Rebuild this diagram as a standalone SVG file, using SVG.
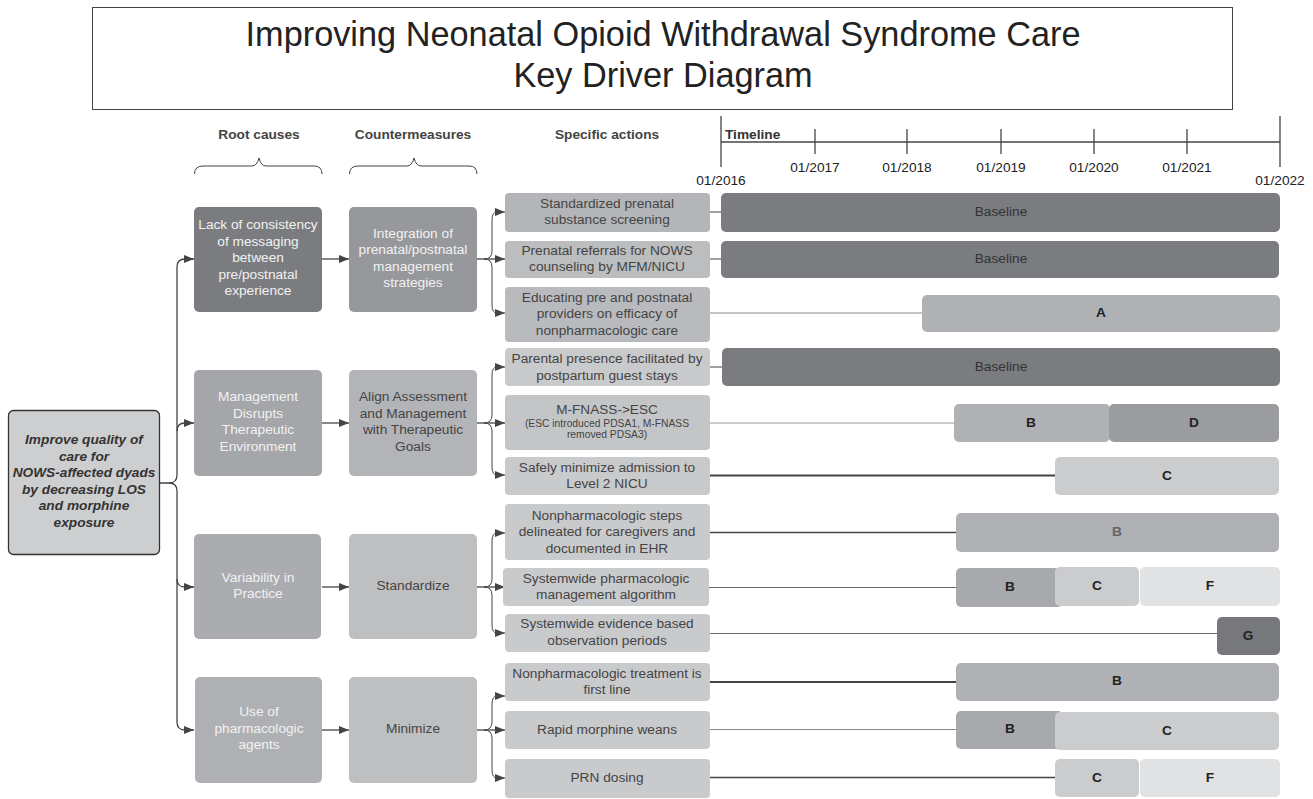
<svg xmlns="http://www.w3.org/2000/svg" width="1313" height="799" viewBox="0 0 1313 799">
<defs>
<marker id="arr" viewBox="0 0 10 8" refX="10" refY="4" markerWidth="10" markerHeight="8" markerUnits="userSpaceOnUse" orient="auto">
<path d="M0,0 L10,4 L0,8 Z" fill="#444"/>
</marker>
<style>
text{font-family:"Liberation Sans",Arial,sans-serif;text-anchor:middle}
.title{font-size:34.3px;fill:#222}
.hdr{font-size:13.7px;font-weight:bold;fill:#444}
.lt{font-size:13.7px;fill:#f2f2f2}
.dk{font-size:13.7px;fill:#444}
.goal{font-size:13.7px;font-weight:bold;font-style:italic;fill:#333}
.tick{font-size:13.7px;fill:#222}
.bar{font-size:13.7px;font-weight:bold;fill:#222}
.base{font-size:13.7px;fill:#333}
.conn{fill:none;stroke:#444;stroke-width:1.3}
.brace{fill:none;stroke:#444;stroke-width:1}
.tl{stroke:#444;stroke-width:1.3}
</style>
</defs>
<rect width="1313" height="799" fill="#fff"/>

<g id="title">
<rect x="92.5" y="7.5" width="1140" height="102" fill="#fff" stroke="#444" stroke-width="1"/>
<text class="title" x="663" y="46">Improving Neonatal Opioid Withdrawal Syndrome Care</text>
<text class="title" x="663" y="87">Key Driver Diagram</text>
</g>

<g id="headers">
<text class="hdr" x="259" y="139">Root causes</text>
<text class="hdr" x="413" y="139">Countermeasures</text>
<text class="hdr" x="607" y="139">Specific actions</text>
<path class="brace" d="M194.5,174 Q194.5,166 203,166 H252 Q257,166 259,158 Q261,166 266,166 H314 Q322,166 322,174"/>
<path class="brace" d="M349.5,174 Q349.5,166 358,166 H407 Q412,166 414,158 Q416,166 421,166 H469 Q477,166 477,174"/>
</g>

<g id="timeline">
<line class="tl" x1="721" y1="142" x2="1280" y2="142"/>
<line class="tl" x1="721" y1="116" x2="721" y2="167"/>
<line class="tl" x1="1280" y1="116" x2="1280" y2="167"/>
<line class="tl" x1="815" y1="129" x2="815" y2="154"/>
<line class="tl" x1="907" y1="129" x2="907" y2="154"/>
<line class="tl" x1="1001" y1="129" x2="1001" y2="154"/>
<line class="tl" x1="1094" y1="129" x2="1094" y2="154"/>
<line class="tl" x1="1187" y1="129" x2="1187" y2="154"/>
<text class="hdr" x="725" y="139" style="text-anchor:start;fill:#333">Timeline</text>
<text class="tick" x="721" y="185">01/2016</text>
<text class="tick" x="815" y="172">01/2017</text>
<text class="tick" x="907" y="172">01/2018</text>
<text class="tick" x="1001" y="172">01/2019</text>
<text class="tick" x="1094" y="172">01/2020</text>
<text class="tick" x="1187" y="172">01/2021</text>
<text class="tick" x="1280" y="185">01/2022</text>
</g>

<g id="connectors">
<path class="conn" d="M159,483 H169 Q177,483 177,475 V267 Q177,259 185,259 H194" marker-end="url(#arr)"/>
<path class="conn" d="M169,483 Q177,483 177,491 V722 Q177,730 185,730 H194" marker-end="url(#arr)"/>
<path class="conn" d="M177,431 Q177,423 185,423 H194" marker-end="url(#arr)"/>
<path class="conn" d="M177,579 Q177,587 185,587 H194" marker-end="url(#arr)"/>
<line class="conn" x1="322" y1="259" x2="349" y2="259" marker-end="url(#arr)"/>
<line class="conn" x1="322" y1="423" x2="349" y2="423" marker-end="url(#arr)"/>
<line class="conn" x1="322" y1="587" x2="349" y2="587" marker-end="url(#arr)"/>
<line class="conn" x1="322" y1="730" x2="349" y2="730" marker-end="url(#arr)"/>
<line class="conn" x1="477" y1="259" x2="505" y2="259" marker-end="url(#arr)"/>
<path class="brace" d="M484,259 Q492,259 492,251 V220 Q492,212 497,212 H505" marker-end="url(#arr)"/>
<path class="brace" d="M484,259 Q492,259 492,267 V305 Q492,313 497,313 H505" marker-end="url(#arr)"/>
<line class="conn" x1="477" y1="423" x2="505" y2="423" marker-end="url(#arr)"/>
<path class="brace" d="M484,423 Q492,423 492,415 V375 Q492,367 497,367 H505" marker-end="url(#arr)"/>
<path class="brace" d="M484,423 Q492,423 492,431 V467 Q492,475 497,475 H505" marker-end="url(#arr)"/>
<line class="conn" x1="477" y1="587" x2="505" y2="587" marker-end="url(#arr)"/>
<path class="brace" d="M484,587 Q492,587 492,579 V541 Q492,533 497,533 H505" marker-end="url(#arr)"/>
<path class="brace" d="M484,587 Q492,587 492,595 V625 Q492,633 497,633 H505" marker-end="url(#arr)"/>
<line class="conn" x1="477" y1="730" x2="505" y2="730" marker-end="url(#arr)"/>
<path class="brace" d="M484,730 Q492,730 492,722 V704 Q492,696 497,696 H505" marker-end="url(#arr)"/>
<path class="brace" d="M484,730 Q492,730 492,738 V770 Q492,778 497,778 H505" marker-end="url(#arr)"/>
<line x1="710" y1="212" x2="721" y2="212" stroke="#444" stroke-width="1"/>
<line x1="710" y1="259" x2="721" y2="259" stroke="#444" stroke-width="1"/>
<line x1="710" y1="313" x2="922" y2="313" stroke="#888" stroke-width="1"/>
<line x1="710" y1="367" x2="722" y2="367" stroke="#444" stroke-width="1"/>
<line x1="710" y1="423" x2="954" y2="423" stroke="#999" stroke-width="1"/>
<line x1="710" y1="475.5" x2="1055" y2="475.5" stroke="#444" stroke-width="2"/>
<line x1="710" y1="532.5" x2="956" y2="532.5" stroke="#444" stroke-width="1.3"/>
<line x1="709" y1="587.5" x2="956" y2="587.5" stroke="#666" stroke-width="1"/>
<line x1="710" y1="633.5" x2="1217" y2="633.5" stroke="#666" stroke-width="1"/>
<line x1="710" y1="682" x2="956" y2="682" stroke="#444" stroke-width="2"/>
<line x1="710" y1="729.5" x2="956" y2="729.5" stroke="#888" stroke-width="1"/>
<line x1="710" y1="777.5" x2="1055" y2="777.5" stroke="#444" stroke-width="1.3"/>
</g>

<g id="goal">
<rect x="8.5" y="410.5" width="151" height="144" rx="5" fill="#cdcecf" stroke="#333" stroke-width="1.3"/>
<text class="goal" x="84" y="444">Improve quality of</text>
<text class="goal" x="84" y="461">care for</text>
<text class="goal" x="84" y="477">NOWS-affected dyads</text>
<text class="goal" x="84" y="494">by decreasing LOS</text>
<text class="goal" x="84" y="510">and morphine</text>
<text class="goal" x="84" y="527">exposure</text>
</g>

<g id="root1">
<rect x="194" y="207" width="128" height="105" rx="5" fill="#7b7c80"/>
<text class="lt" x="258" y="229">Lack of consistency</text>
<text class="lt" x="258" y="246">of messaging</text>
<text class="lt" x="258" y="262">between</text>
<text class="lt" x="258" y="279">pre/postnatal</text>
<text class="lt" x="258" y="295">experience</text>
</g>
<g id="root2">
<rect x="194" y="370" width="128" height="106" rx="5" fill="#a5a6a9"/>
<text class="lt" x="258" y="401">Management</text>
<text class="lt" x="258" y="418">Disrupts</text>
<text class="lt" x="258" y="434">Therapeutic</text>
<text class="lt" x="258" y="451">Environment</text>
</g>
<g id="root3">
<rect x="194" y="534" width="127" height="105" rx="5" fill="#abacaf"/>
<text class="lt" x="258" y="582">Variability in</text>
<text class="lt" x="258" y="598">Practice</text>
</g>
<g id="root4">
<rect x="195" y="677" width="127" height="106" rx="5" fill="#afb0b3"/>
<text class="lt" x="259" y="716">Use of</text>
<text class="lt" x="259" y="733">pharmacologic</text>
<text class="lt" x="259" y="749">agents</text>
</g>

<g id="counter1">
<rect x="349" y="207" width="128" height="105" rx="5" fill="#97989b"/>
<text class="lt" x="413" y="238">Integration of</text>
<text class="lt" x="413" y="254">prenatal/postnatal</text>
<text class="lt" x="413" y="271">management</text>
<text class="lt" x="413" y="287">strategies</text>
</g>
<g id="counter2">
<rect x="349" y="370" width="128" height="106" rx="5" fill="#b3b4b7"/>
<text class="dk" x="413" y="401">Align Assessment</text>
<text class="dk" x="413" y="418">and Management</text>
<text class="dk" x="413" y="434">with Therapeutic</text>
<text class="dk" x="413" y="451">Goals</text>
</g>
<g id="counter3">
<rect x="349" y="534" width="128" height="105" rx="5" fill="#bebfc1"/>
<text class="dk" x="413" y="590">Standardize</text>
</g>
<g id="counter4">
<rect x="349" y="677" width="128" height="106" rx="5" fill="#bebfc1"/>
<text class="dk" x="413" y="733">Minimize</text>
</g>

<g id="action1">
<rect x="505" y="193" width="205" height="39" rx="4" fill="#b4b5b8"/>
<text class="dk" x="607" y="208">Standardized prenatal</text>
<text class="dk" x="607" y="224">substance screening</text>
</g>
<g id="action2">
<rect x="505" y="241" width="205" height="37" rx="4" fill="#bcbdbf"/>
<text class="dk" x="607" y="255">Prenatal referrals for NOWS</text>
<text class="dk" x="607" y="271">counseling by MFM/NICU</text>
</g>
<g id="action3">
<rect x="505" y="287" width="205" height="55" rx="4" fill="#b9babd"/>
<text class="dk" x="607" y="302">Educating pre and postnatal</text>
<text class="dk" x="607" y="318">providers on efficacy of</text>
<text class="dk" x="607" y="335">nonpharmacologic care</text>
</g>
<g id="action4">
<rect x="505" y="348" width="205" height="38" rx="4" fill="#c9cacc"/>
<text class="dk" x="607" y="363">Parental presence facilitated by</text>
<text class="dk" x="607" y="380">postpartum guest stays</text>
</g>
<g id="action5">
<rect x="505" y="395" width="205" height="55" rx="4" fill="#c4c5c7"/>
<text class="dk" x="607" y="414" style="font-size:13.6px">M-FNASS-&gt;ESC</text>
<text class="dk" x="607" y="427" style="font-size:10.3px">(ESC introduced PDSA1, M-FNASS</text>
<text class="dk" x="607" y="438" style="font-size:10.3px">removed PDSA3)</text>
</g>
<g id="action6">
<rect x="505" y="457" width="205" height="38" rx="4" fill="#c9cacc"/>
<text class="dk" x="607" y="472">Safely minimize admission to</text>
<text class="dk" x="607" y="488">Level 2 NICU</text>
</g>
<g id="action7">
<rect x="505" y="504" width="205" height="56" rx="4" fill="#c9cacc"/>
<text class="dk" x="607" y="520">Nonpharmacologic steps</text>
<text class="dk" x="607" y="536">delineated for caregivers and</text>
<text class="dk" x="607" y="553">documented in EHR</text>
</g>
<g id="action8">
<rect x="503" y="568" width="206" height="38" rx="4" fill="#c9cacc"/>
<text class="dk" x="606" y="583">Systemwide pharmacologic</text>
<text class="dk" x="606" y="599">management algorithm</text>
</g>
<g id="action9">
<rect x="505" y="614" width="205" height="38" rx="4" fill="#c9cacc"/>
<text class="dk" x="607" y="628">Systemwide evidence based</text>
<text class="dk" x="607" y="645">observation periods</text>
</g>
<g id="action10">
<rect x="505" y="663" width="205" height="38" rx="4" fill="#c9cacc"/>
<text class="dk" x="607" y="678">Nonpharmacologic treatment is</text>
<text class="dk" x="607" y="694">first line</text>
</g>
<g id="action11">
<rect x="505" y="711" width="205" height="38" rx="4" fill="#c9cacc"/>
<text class="dk" x="607" y="734">Rapid morphine weans</text>
</g>
<g id="action12">
<rect x="505" y="759" width="205" height="39" rx="4" fill="#c9cacc"/>
<text class="dk" x="607" y="782">PRN dosing</text>
</g>

<g id="bars">
<rect x="721" y="193" width="559" height="39" rx="5" fill="#7b7c80"/>
<text class="base" x="1001" y="216">Baseline</text>
<rect x="721" y="241" width="558" height="37" rx="5" fill="#7b7c80"/>
<text class="base" x="1001" y="263">Baseline</text>
<rect x="922" y="295" width="358" height="37" rx="5" fill="#b0b1b4"/>
<text class="bar" x="1101" y="317">A</text>
<rect x="722" y="348" width="558" height="38" rx="5" fill="#7b7c80"/>
<text class="base" x="1001" y="371">Baseline</text>
<rect x="954" y="404" width="156" height="38" rx="5" fill="#b0b1b4"/>
<text class="bar" x="1031" y="427">B</text>
<rect x="1109" y="404" width="170" height="38" rx="5" fill="#9b9c9f"/>
<text class="bar" x="1194" y="427">D</text>
<rect x="1055" y="457" width="224" height="38" rx="5" fill="#cbcccd"/>
<text class="bar" x="1167" y="480">C</text>
<rect x="956" y="513" width="323" height="39" rx="5" fill="#b0b1b4"/>
<text class="bar" x="1117" y="536" style="fill:#666">B</text>
<rect x="956" y="568" width="107" height="39" rx="5" fill="#a8a9ac"/>
<text class="bar" x="1010" y="591">B</text>
<rect x="1055" y="567" width="84" height="39" rx="5" fill="#cbcccd"/>
<text class="bar" x="1097" y="590">C</text>
<rect x="1140" y="567" width="140" height="39" rx="5" fill="#e1e2e3"/>
<text class="bar" x="1210" y="590">F</text>
<rect x="1217" y="617" width="63" height="38" rx="5" fill="#77787c"/>
<text class="bar" x="1248" y="640">G</text>
<rect x="956" y="663" width="323" height="38" rx="5" fill="#b0b1b4"/>
<text class="bar" x="1117" y="685">B</text>
<rect x="956" y="711" width="107" height="38" rx="5" fill="#a8a9ac"/>
<text class="bar" x="1010" y="733">B</text>
<rect x="1055" y="712" width="224" height="38" rx="5" fill="#cbcccd"/>
<text class="bar" x="1167" y="735">C</text>
<rect x="1055" y="759" width="84" height="38" rx="5" fill="#cbcccd"/>
<text class="bar" x="1097" y="782">C</text>
<rect x="1140" y="759" width="140" height="38" rx="5" fill="#e1e2e3"/>
<text class="bar" x="1210" y="782">F</text>
</g>
</svg>
